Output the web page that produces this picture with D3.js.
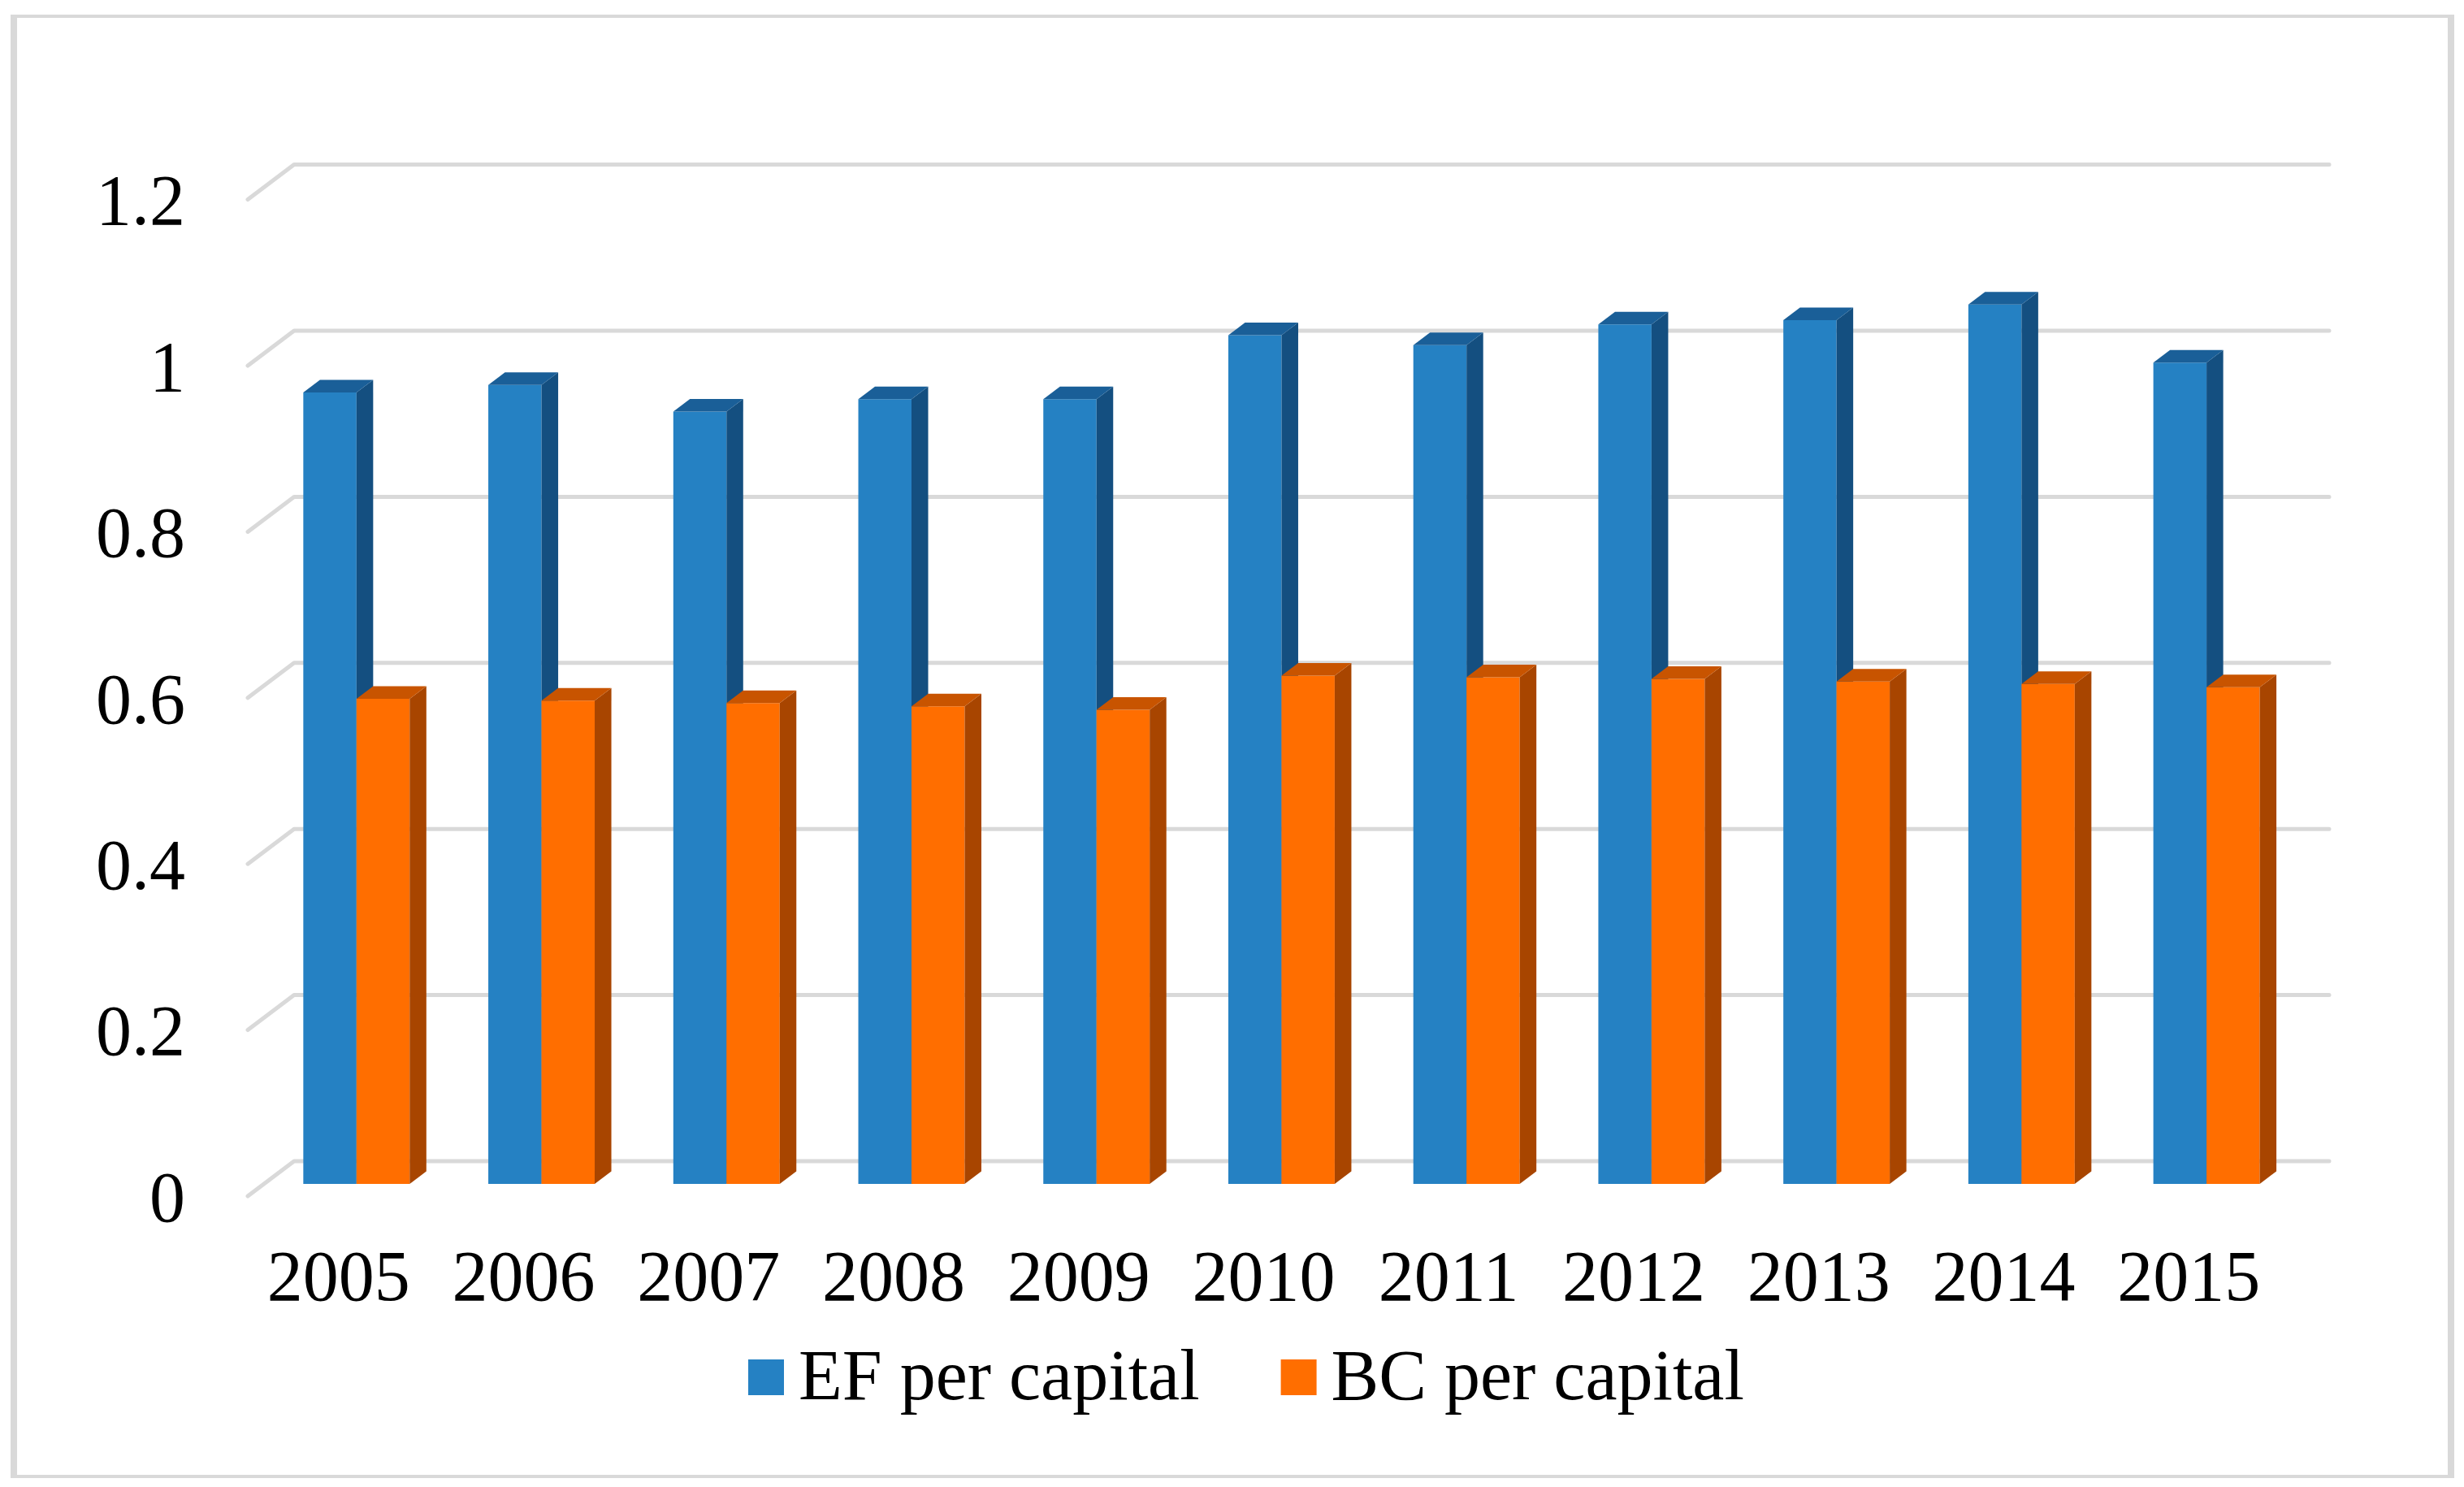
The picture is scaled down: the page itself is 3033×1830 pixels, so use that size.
<!DOCTYPE html>
<html>
<head>
<meta charset="utf-8">
<script src="https://cdn.jsdelivr.net/npm/d3@7"></script>
<style>
  html, body { margin: 0; padding: 0; background: #fff; }
  svg { display: block; }
</style>
</head>
<body>
<svg id="chart"></svg>
<script>
// data
const years = ["2005", "2006", "2007", "2008", "2009", "2010", "2011", "2012", "2013", "2014", "2015"];
const seriesNames = ["EF per capital", "BC per capital"];
const efValues = [0.953, 0.962, 0.93, 0.945, 0.945, 1.022, 1.01, 1.035, 1.04, 1.059, 0.989];
const bcValues = [0.584, 0.582, 0.579, 0.575, 0.571, 0.612, 0.61, 0.608, 0.605, 0.602, 0.598];
const yTicks = [0, 0.2, 0.4, 0.6, 0.8, 1, 1.2];
const yTickLabels = ["0", "0.2", "0.4", "0.6", "0.8", "1", "1.2"];

const width = 3033, height = 1830;
const font = "'Liberation Serif', 'Times New Roman', serif";

// colours: front, side, top
const colors = [
    { front: "#2581c3", side: "#144f80", top: "#1a5f98" },
    { front: "#ff6e00", side: "#a84500", top: "#c85400" }
];

const svg = d3.select("#chart")
    .attr("width", width)
    .attr("height", height)
    .attr("viewBox", [0, 0, width, height]);

// outer frame
svg.append("rect").attr("x", 13).attr("y", 18).attr("width", 3008).attr("height", 1801).attr("fill", "#d9d9d9");
svg.append("rect").attr("x", 21).attr("y", 22).attr("width", 2992).attr("height", 1793).attr("fill", "#fff");

// oblique 3D: depth vector for full floor depth
const depthX = 57, depthY = -43;
const floorLeft = 305, floorRight = 2810;

const y = d3.scaleLinear().domain([0, 1.2]).range([1472, 1472 - 1.2 * 1022]);
const x = d3.scaleBand().domain(years).range([floorLeft, floorRight]).paddingInner(0.425).paddingOuter(0.2125);
const xSeries = d3.scaleBand().domain(d3.range(2)).range([0, x.bandwidth()]);

const proj = (px, v, t) => [px + t * depthX, y(v) + t * depthY];

// gridlines: left side wall edge + back wall
const grid = svg.append("g")
    .attr("fill", "none")
    .attr("stroke", "#d9d9d9")
    .attr("stroke-width", 5)
    .attr("stroke-linecap", "round")
    .attr("stroke-linejoin", "round");

grid.selectAll("path")
    .data(yTicks)
    .enter().append("path")
    .attr("d", v => {
        const a = proj(floorLeft, v, 0), b = proj(floorLeft, v, 1), c = proj(floorRight, v, 1);
        return `M${a}L${b}L${c}`;
    });

// y labels
svg.append("g")
    .selectAll("text")
    .data(yTicks)
    .enter().append("text")
    .attr("x", 228)
    .attr("y", v => y(v))
    .attr("dy", "0.35em")
    .attr("text-anchor", "end")
    .attr("font-family", font)
    .attr("font-size", 88)
    .attr("fill", "#000")
    .text((v, i) => yTickLabels[i]);

// bars
const t0 = 0.35, t1 = 0.71;
const bars = [];
years.forEach((yr, i) => {
    [efValues[i], bcValues[i]].forEach((v, s) => bars.push({ yr, v, s }));
});

const poly = pts => "M" + pts.map(p => p.join(",")).join("L") + "Z";

const barG = svg.append("g")
    .selectAll("g")
    .data(bars)
    .enter().append("g");

barG.each(function (d) {
    const g = d3.select(this);
    const xl = x(d.yr) + xSeries(d.s);
    const xr = xl + xSeries.bandwidth();
    const c = colors[d.s];
    // front face
    g.append("path")
        .attr("d", poly([proj(xl, 0, t0), proj(xr, 0, t0), proj(xr, d.v, t0), proj(xl, d.v, t0)]))
        .attr("fill", c.front);
    // right side
    g.append("path")
        .attr("d", poly([proj(xr, 0, t0), proj(xr, 0, t1), proj(xr, d.v, t1), proj(xr, d.v, t0)]))
        .attr("fill", c.side);
    // top
    g.append("path")
        .attr("d", poly([proj(xl, d.v, t0), proj(xr, d.v, t0), proj(xr, d.v, t1), proj(xl, d.v, t1)]))
        .attr("fill", c.top);
});

// x labels
svg.append("g")
    .selectAll("text")
    .data(years)
    .enter().append("text")
    .attr("x", d => x(d) + x.bandwidth() / 2 - 2)
    .attr("y", 1600)
    .attr("text-anchor", "middle")
    .attr("font-family", font)
    .attr("font-size", 88)
    .attr("fill", "#000")
    .text(d => d);

// legend
const legend = svg.append("g");
let lx = 921;
seriesNames.forEach((name, i) => {
    legend.append("rect")
        .attr("x", lx).attr("y", 1673)
        .attr("width", 44).attr("height", 44)
        .attr("fill", colors[i].front);
    const t = legend.append("text")
        .attr("x", lx + 62)
        .attr("y", 1722)
        .attr("font-family", font)
        .attr("font-size", 88)
        .attr("fill", "#000")
        .text(name);
    lx = lx + 62 + t.node().getComputedTextLength() + 100;
});
</script>
</body>
</html>
